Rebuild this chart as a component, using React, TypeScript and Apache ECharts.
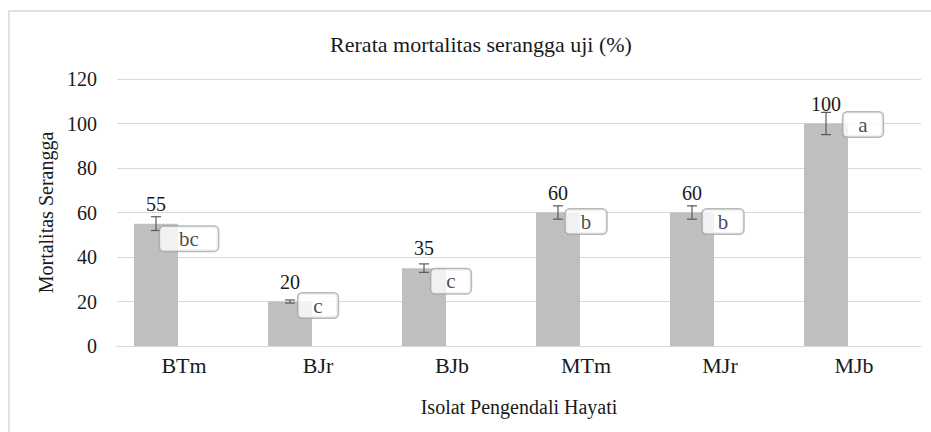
import React, { useEffect, useRef } from "react";
import * as echarts from "echarts";

const categories = ["BTm", "BJr", "BJb", "MTm", "MJr", "MJb"];
const mortality = [55, 20, 35, 60, 60, 100];
const errors = [3.1, 0.7, 1.9, 3, 3, 5];
const letters = ["bc", "c", "c", "b", "b", "a"];

const titleText = "Rerata mortalitas serangga uji (%)";
const xAxisName = "Isolat Pengendali Hayati";
const yAxisName = "Mortalitas Serangga";

export default function App() {
  const ref = useRef<HTMLDivElement>(null);
  useEffect(() => {
    const chart = echarts.init(ref.current!, null, { renderer: "svg" });
    const FONT = "'Liberation Serif', 'Times New Roman', serif";
    const TXT = "#1a1a1a";
    const BAR_W = 44;
    const GAP = 12;
    const shift = -(BAR_W + GAP) / 2;
    const letterOffsets = [[5, 15], [0, 4], [-1, 13], [0, 9], [3, 9], [9, 1]];
    const letterPad = [[1, 19], [1, 15], [1, 15], [1, 15], [1, 15], [1, 15]];

    chart.setOption({
      animation: false,
      title: {
        text: titleText,
        left: 476,
        textAlign: "center",
        top: 28,
        textStyle: { fontFamily: FONT, fontSize: 22, fontWeight: "normal", color: TXT },
      },
      graphic: [
        {
          type: "rect",
          shape: { x: 9, y: 11, width: 960, height: 460 },
          style: { fill: "none", stroke: "#d9d9d9", lineWidth: 1.5 },
          z: -1,
        },
      ],
      grid: { left: 117, right: 10, top: 79, bottom: 86 },
      xAxis: {
        type: "category",
        data: categories,
        axisTick: { show: false },
        axisLine: { lineStyle: { color: "#d9d9d9", width: 1 } },
        axisLabel: { fontFamily: FONT, fontSize: 22, color: TXT, margin: 8 },
        name: xAxisName,
        nameLocation: "middle",
        nameGap: 51,
        nameTextStyle: { fontFamily: FONT, fontSize: 20, color: TXT },
      },
      yAxis: {
        type: "value",
        min: 0,
        max: 120,
        interval: 20,
        axisLine: { show: false },
        axisTick: { show: false },
        splitLine: { lineStyle: { color: "#d9d9d9", width: 1 } },
        axisLabel: { fontFamily: FONT, fontSize: 20, color: TXT, margin: 20 },
        name: yAxisName,
        nameLocation: "middle",
        nameGap: 60,
        nameRotate: 90,
        nameTextStyle: { fontFamily: FONT, fontSize: 20, color: TXT },
      },
      series: [
        {
          type: "bar",
          data: mortality,
          barWidth: BAR_W,
          barGap: `${(GAP / BAR_W) * 100}%`,
          itemStyle: { color: "#bfbfbf" },
          label: {
            show: true,
            position: "top",
            distance: 10,
            fontFamily: FONT,
            fontSize: 20,
            color: TXT,
          },
          z: 2,
        },
        {
          type: "bar",
          data: categories.map(() => "-"),
          barWidth: BAR_W,
        },
        {
          type: "custom",
          data: mortality.map((v, i) => [i, v, errors[i]]),
          encode: { x: 0, y: 1 },
          z: 5,
          renderItem: (params: any, api: any) => {
            const i = api.value(0);
            const v = api.value(1);
            const e = api.value(2);
            const top = api.coord([i, v + e]);
            const bot = api.coord([i, v - e]);
            const x = top[0] + shift;
            const style = { stroke: "#595959", lineWidth: 1.2 };
            return {
              type: "group",
              children: [
                { type: "line", shape: { x1: x, y1: top[1], x2: x, y2: bot[1] }, style },
                { type: "line", shape: { x1: x - 5, y1: top[1], x2: x + 5, y2: top[1] }, style },
                { type: "line", shape: { x1: x - 5, y1: bot[1], x2: x + 5, y2: bot[1] }, style },
              ],
            };
          },
        },
        {
          type: "scatter",
          symbolSize: 0,
          z: 10,
          data: mortality.map((v, i) => ({
            value: [i, v],
            label: { offset: letterOffsets[i], padding: letterPad[i] },
          })),
          label: {
            show: true,
            position: "inside",
            formatter: (p: any) => letters[p.dataIndex],
            fontFamily: FONT,
            fontSize: 21,
            lineHeight: 22,
            color: TXT,
            backgroundColor: "#ffffff",
            borderColor: "#a6a6a6",
            borderWidth: 1.5,
            borderRadius: 4,
          },
        },
      ],
    });
    return () => chart.dispose();
  }, []);
  return (
    <div
      ref={ref}
      style={{ position: "absolute", left: 0, top: 0, width: 931, height: 432 }}
    />
  );
}
